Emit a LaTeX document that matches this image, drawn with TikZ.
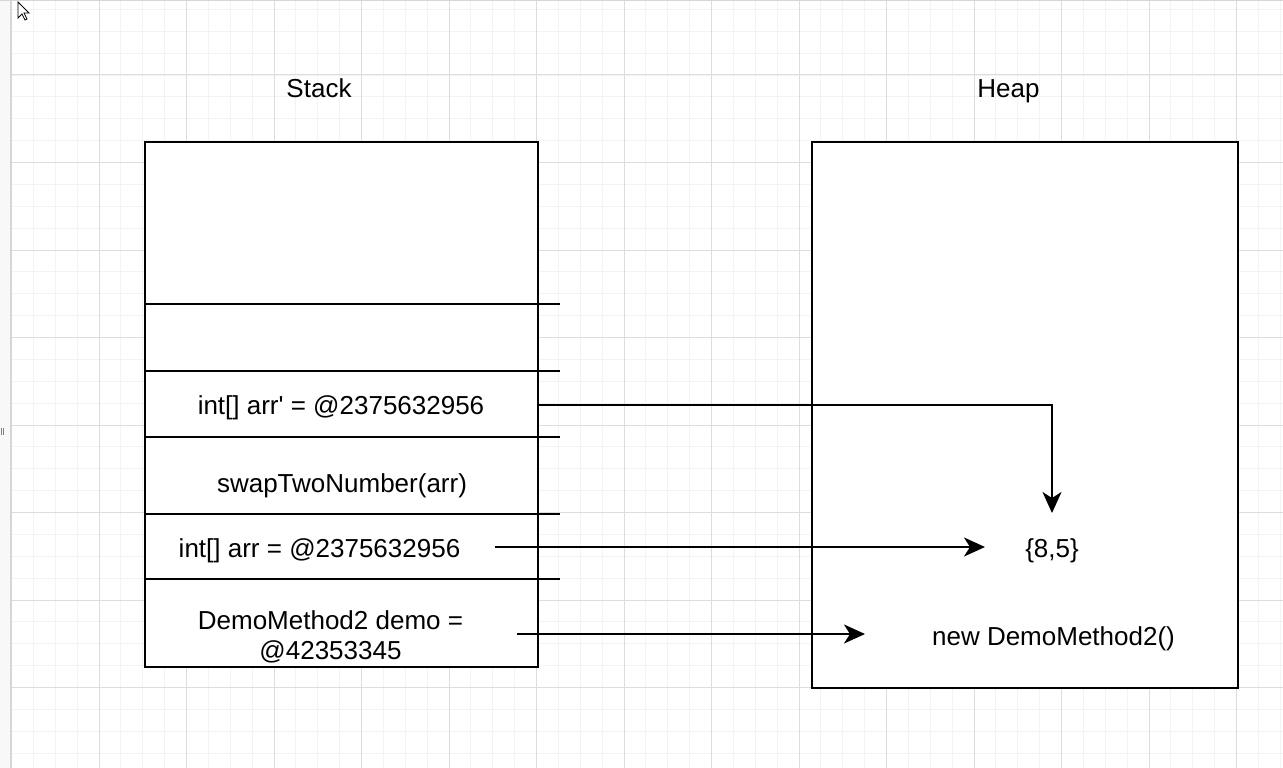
\documentclass[tikz,border=0pt]{standalone}
\usepackage{fontspec}
\setmainfont{Liberation Sans}
\usetikzlibrary{arrows.meta}
\definecolor{minorgrid}{HTML}{F3F3F3}
\definecolor{majorgrid}{HTML}{DDDDDD}
\definecolor{sidebar}{HTML}{F8F8F8}
\definecolor{sideline}{HTML}{D6D6D6}
\begin{document}
\begin{tikzpicture}[x=1pt,y=-1pt,
  lbl/.style={anchor=base,inner sep=0pt,font=\fontsize{26}{30}\selectfont,text=black},
  box/.style={draw=black,line width=2pt,fill=white,inner sep=0pt},
  sep/.style={draw=black,line width=2pt},
  link/.style={draw=black,line width=2pt,-{Stealth[length=21pt,width=19pt,inset=6pt]}}]
\useasboundingbox (0,0) rectangle (1283,768);
\fill[white] (0,0) rectangle (1283,768);
% grid
\foreach \i in {0,...,58} \draw[minorgrid,line width=1pt] ({11.5+\i*21.875},1) -- ({11.5+\i*21.875},768);
\foreach \j in {0,...,34} \draw[minorgrid,line width=1pt] (11.5,{9.4+\j*21.875}) -- (1283,{9.4+\j*21.875});
\foreach \i in {1,...,14} \draw[majorgrid,line width=1pt] ({11.5+\i*87.5},1) -- ({11.5+\i*87.5},768);
\foreach \j in {1,...,8} \draw[majorgrid,line width=1pt] (11.5,{-12.5+\j*87.5}) -- (1283,{-12.5+\j*87.5});
% editor frame
\fill[sidebar] (0,0) rectangle (10.5,768);
\draw[sideline,line width=1.5pt] (11,0) -- (11,768);
\draw[sideline,line width=1pt] (0,0.5) -- (1283,0.5);
\draw[gray,line width=0.8pt] (1,428) -- (1,435) (3,428) -- (3,435);
\draw[black,fill=white,line width=0.8pt,line join=miter] (18,2) -- ++(0,16) -- ++(4,-4) -- ++(3,6) -- ++(2,-1) -- ++(-3,-6) -- ++(5,0) -- cycle;
% containers
\node[box,minimum width=393pt,minimum height=525pt] (stack) at (341.5,404.5) {};
\node[box,minimum width=426pt,minimum height=546pt] (heap) at (1025,415) {};
% separators
\foreach \n/\yy in {1/304,2/371,3/437,4/514,5/579} {
  \coordinate (s\n) at (560,\yy);
  \draw[sep] (stack.west |- s\n) -- (s\n);
}
% labels
\node[lbl] (stacklbl) at (319,97) {Stack};
\node[lbl] (heaplbl) at (1008.5,97) {Heap};
\node[lbl] (arrp) at (341,414) {int[] arr\textquotesingle{} = @2375632956};
\node[lbl] (swap) at (342,492) {swapTwoNumber(arr)};
\node[lbl] (arr) at (319.5,557) {int[] arr = @2375632956};
\node[lbl,align=center] (demo) at (330.5,659) {DemoMethod2 demo =\\@42353345};
\node[lbl] (vals) at (1052,557) {\{8,5\}};
\node[lbl] (newdemo) at (1053.5,645) {new DemoMethod2()};
% connectors
\coordinate (a1s) at (538,405);
\coordinate (a1e) at (1052,513);
\coordinate (a2s) at (495,547);
\coordinate (a2e) at (985,547);
\coordinate (a3s) at (517,634);
\coordinate (a3e) at (865,634);
\draw[link] (a1s) -| (a1e);
\draw[link] (a2s) -- (a2e);
\draw[link] (a3s) -- (a3e);
\end{tikzpicture}
\end{document}
